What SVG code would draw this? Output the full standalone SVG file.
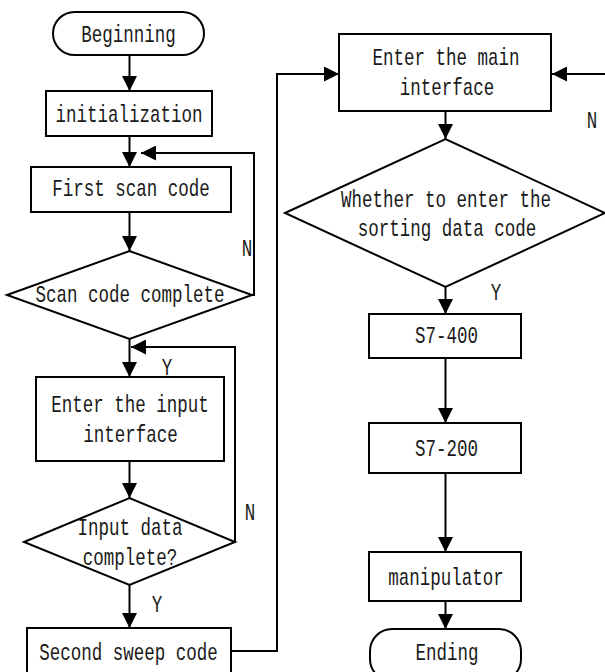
<svg xmlns="http://www.w3.org/2000/svg" width="605" height="672" viewBox="0 0 605 672">
<style>
.s { fill: #fff; stroke: #000; stroke-width: 2; }
.c { fill: none; stroke: #000; stroke-width: 2; }
.t { font-family: "Liberation Mono", "DejaVu Sans Mono", monospace; font-size: 24px; text-anchor: middle; fill: #1a1a1a; }
</style>
<defs>
<marker id="ah" markerUnits="userSpaceOnUse" markerWidth="15" markerHeight="15" refX="15" refY="7.5" orient="auto">
<path d="M0,0 L15,7.5 L0,15 z" fill="#000"/>
</marker>
</defs>
<rect width="605" height="672" fill="#fff"/>
<g id="connectors">
<path class="c" d="M129.5,55 V91" marker-end="url(#ah)"/>
<path class="c" d="M129.5,136 V167" marker-end="url(#ah)"/>
<path class="c" d="M252,295 H254 V153 H141" marker-end="url(#ah)"/>
<path class="c" d="M129.5,212 V251" marker-end="url(#ah)"/>
<path class="c" d="M129.5,339 V377" marker-end="url(#ah)"/>
<path class="c" d="M235,542 V347 H131" marker-end="url(#ah)"/>
<path class="c" d="M129.5,461 V498" marker-end="url(#ah)"/>
<path class="c" d="M129.5,585 V628" marker-end="url(#ah)"/>
<path class="c" d="M231,651 H277 V74 H339" marker-end="url(#ah)"/>
<path class="c" d="M606,74 H552" marker-end="url(#ah)"/>
<path class="c" d="M445.5,111 V139" marker-end="url(#ah)"/>
<path class="c" d="M445.5,287 V314" marker-end="url(#ah)"/>
<path class="c" d="M445.5,358 V423" marker-end="url(#ah)"/>
<path class="c" d="M445.5,473 V552" marker-end="url(#ah)"/>
<path class="c" d="M445.5,601 V629" marker-end="url(#ah)"/>
</g>
<g id="labels">
<text class="t" x="247" y="256" textLength="10.5" lengthAdjust="spacingAndGlyphs">N</text>
<text class="t" x="167" y="375" textLength="10.5" lengthAdjust="spacingAndGlyphs">Y</text>
<text class="t" x="250" y="520" textLength="10.5" lengthAdjust="spacingAndGlyphs">N</text>
<text class="t" x="157" y="612" textLength="10.5" lengthAdjust="spacingAndGlyphs">Y</text>
<text class="t" x="592" y="128" textLength="10.5" lengthAdjust="spacingAndGlyphs">N</text>
<text class="t" x="496" y="300" textLength="10.5" lengthAdjust="spacingAndGlyphs">Y</text>
</g>
<g id="beginning">
<rect class="s" x="53" y="12" width="151" height="43" rx="21.5"/>
<text class="t" x="128.5" y="42" textLength="94.5" lengthAdjust="spacingAndGlyphs">Beginning</text>
</g>
<g id="initialization">
<rect class="s" x="46" y="91" width="166" height="45"/>
<text class="t" x="129" y="122" textLength="147" lengthAdjust="spacingAndGlyphs">initialization</text>
</g>
<g id="first-scan">
<rect class="s" x="31" y="167" width="200" height="45"/>
<text class="t" x="131" y="196" textLength="157.5" lengthAdjust="spacingAndGlyphs">First scan code</text>
</g>
<g id="scan-complete">
<polygon class="s" points="7,295 129.5,251 252,295 129.5,339"/>
<text class="t" x="130" y="302" textLength="189" lengthAdjust="spacingAndGlyphs">Scan code complete</text>
</g>
<g id="input-interface">
<rect class="s" x="36" y="377" width="188" height="84"/>
<text class="t" x="130" y="412" textLength="157.5" lengthAdjust="spacingAndGlyphs">Enter the input</text>
<text class="t" x="130.5" y="442" textLength="94.5" lengthAdjust="spacingAndGlyphs">interface</text>
</g>
<g id="input-complete">
<polygon class="s" points="24,542 129.5,498 235,542 129.5,585"/>
<text class="t" x="130" y="535" textLength="105" lengthAdjust="spacingAndGlyphs">Input data</text>
<text class="t" x="130" y="565" textLength="94.5" lengthAdjust="spacingAndGlyphs">complete?</text>
</g>
<g id="second-sweep">
<rect class="s" x="27" y="628" width="204" height="52"/>
<text class="t" x="128.5" y="660" textLength="178.5" lengthAdjust="spacingAndGlyphs">Second sweep code</text>
</g>
<g id="main-interface">
<rect class="s" x="339" y="34" width="212" height="77"/>
<text class="t" x="446" y="65" textLength="147" lengthAdjust="spacingAndGlyphs">Enter the main</text>
<text class="t" x="447" y="95" textLength="94.5" lengthAdjust="spacingAndGlyphs">interface</text>
</g>
<g id="sorting-decision">
<polygon class="s" points="285,213 445.5,139 605,213 445.5,287"/>
<text class="t" x="446" y="207" textLength="210" lengthAdjust="spacingAndGlyphs">Whether to enter the</text>
<text class="t" x="447" y="236" textLength="178.5" lengthAdjust="spacingAndGlyphs">sorting data code</text>
</g>
<g id="s7-400">
<rect class="s" x="369" y="314" width="152" height="44"/>
<text class="t" x="446.5" y="343" textLength="63" lengthAdjust="spacingAndGlyphs">S7-400</text>
</g>
<g id="s7-200">
<rect class="s" x="369" y="423" width="152" height="50"/>
<text class="t" x="446.5" y="456" textLength="63" lengthAdjust="spacingAndGlyphs">S7-200</text>
</g>
<g id="manipulator">
<rect class="s" x="369" y="552" width="152" height="49"/>
<text class="t" x="446" y="585" textLength="115.5" lengthAdjust="spacingAndGlyphs">manipulator</text>
</g>
<g id="ending">
<rect class="s" x="370" y="629" width="151" height="52" rx="22"/>
<text class="t" x="447" y="660" textLength="63" lengthAdjust="spacingAndGlyphs">Ending</text>
</g>
</svg>
